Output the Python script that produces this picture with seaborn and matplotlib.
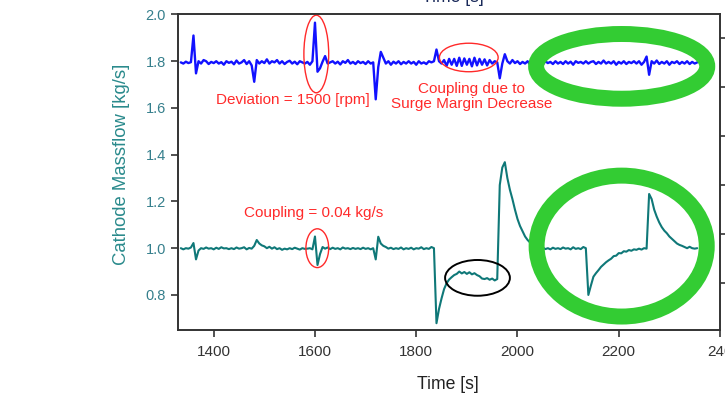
import numpy as np
import pandas as pd
import matplotlib
matplotlib.use("Agg")
import matplotlib.pyplot as plt
from matplotlib.patches import Ellipse
import seaborn as sns

# ---- data: sampled every 5 s from 1335 s to 2355 s ----
time_start, time_end, time_step = 1335, 2355, 5

speed_trace = [  # blue trace (compressor speed response, drawn on massflow scale)
    1.795, 1.790, 1.798, 1.792, 1.796, 1.910, 1.748, 1.800, 1.790, 1.805,
    1.800, 1.788, 1.797, 1.792, 1.800, 1.790, 1.796, 1.785, 1.800, 1.793,
    1.798, 1.787, 1.803, 1.790, 1.795, 1.805, 1.788, 1.800, 1.782, 1.712,
    1.805, 1.790, 1.800, 1.792, 1.808, 1.790, 1.800, 1.795, 1.805, 1.790,
    1.800, 1.788, 1.797, 1.802, 1.790, 1.798, 1.787, 1.800, 1.795, 1.790,
    1.797, 1.785, 1.800, 1.965, 1.755, 1.770, 1.798, 1.822, 1.790, 1.795,
    1.800, 1.790, 1.798, 1.786, 1.800, 1.793, 1.805, 1.790, 1.797, 1.788,
    1.800, 1.792, 1.797, 1.788, 1.800, 1.790, 1.795, 1.637, 1.775, 1.840,
    1.815, 1.790, 1.800, 1.785, 1.798, 1.790, 1.800, 1.787, 1.797, 1.790,
    1.800, 1.790, 1.797, 1.785, 1.800, 1.790, 1.795, 1.788, 1.800, 1.795,
    1.800, 1.850, 1.800, 1.790, 1.805, 1.780, 1.810, 1.785, 1.810, 1.780,
    1.815, 1.780, 1.812, 1.785, 1.810, 1.778, 1.815, 1.782, 1.810, 1.785,
    1.808, 1.782, 1.805, 1.790, 1.800, 1.795, 1.727, 1.790, 1.830, 1.800,
    1.790, 1.805, 1.792, 1.800, 1.788, 1.797, 1.790, 1.800, 1.785, 1.796,
    1.800, 1.790, 1.797, 1.785, 1.800, 1.792, 1.797, 1.788, 1.800, 1.790,
    1.797, 1.788, 1.800, 1.790, 1.798, 1.785, 1.800, 1.793, 1.797, 1.790,
    1.800, 1.790, 1.797, 1.800, 1.788, 1.797, 1.790, 1.803, 1.790, 1.797,
    1.790, 1.800, 1.785, 1.797, 1.790, 1.800, 1.788, 1.797, 1.792, 1.800,
    1.790, 1.800, 1.785, 1.797, 1.820, 1.742, 1.800, 1.790, 1.803, 1.788,
    1.797, 1.790, 1.800, 1.785, 1.797, 1.792, 1.800, 1.788, 1.797, 1.790,
    1.800, 1.788, 1.797, 1.790, 1.795,
]

cathode_massflow = [  # teal trace [kg/s]
    1.000, 0.995, 1.000, 0.998, 1.003, 1.022, 0.952, 0.990, 1.000, 0.997,
    1.003, 0.998, 1.000, 0.995, 1.002, 0.997, 1.004, 0.999, 1.000, 0.996,
    1.000, 0.996, 1.003, 0.998, 1.000, 1.004, 0.995, 1.001, 0.998, 1.010,
    1.035, 1.020, 1.012, 1.008, 1.000, 1.006, 0.998, 1.004, 0.996, 1.000,
    0.993, 0.998, 0.995, 1.000, 0.996, 1.002, 0.998, 0.994, 1.000, 0.997,
    0.998, 1.000, 0.995, 1.050, 0.928, 0.975, 1.005, 0.998, 1.003, 0.996,
    1.002, 0.997, 1.000, 0.995, 1.003, 0.998, 1.000, 0.996, 1.001, 0.997,
    1.000, 0.996, 1.002, 0.997, 1.000, 0.995, 1.000, 0.952, 1.049, 1.020,
    1.010, 1.005, 0.998, 1.002, 0.996, 1.000, 0.997, 1.003, 0.995, 1.000,
    0.997, 1.002, 0.995, 1.000, 0.998, 1.004, 0.996, 1.000, 0.997, 1.005,
    1.000, 0.679, 0.740, 0.785, 0.825, 0.850, 0.866, 0.876, 0.885, 0.890,
    0.900, 0.892, 0.898, 0.890, 0.897, 0.888, 0.893, 0.885, 0.880, 0.870,
    0.868, 0.872, 0.865, 0.870, 0.862, 0.868, 1.270, 1.345, 1.368, 1.300,
    1.250, 1.210, 1.165, 1.125, 1.095, 1.072, 1.050, 1.035, 1.024, 1.016,
    1.010, 1.004, 0.998, 1.003, 0.996, 1.000, 0.995, 1.002, 0.997, 1.000,
    0.996, 1.003, 0.998, 1.000, 0.995, 1.004, 0.997, 1.000, 0.996, 1.005,
    1.000, 0.800, 0.840, 0.878, 0.893, 0.906, 0.920, 0.930, 0.940, 0.948,
    0.955, 0.966, 0.968, 0.979, 0.978, 0.987, 0.985, 0.992, 0.989, 0.995,
    0.993, 0.998, 0.994, 1.000, 0.998, 1.232, 1.210, 1.165, 1.135, 1.110,
    1.090, 1.075, 1.064, 1.050, 1.040, 1.030, 1.020, 1.014, 1.010, 1.005,
    1.000, 1.006, 1.000, 0.998, 1.000,
]

x_ticks = [1400, 1600, 1800, 2000, 2200, 2400]
x_tick_labels = ["1400", "1600", "1800", "2000", "2200", "240"]
y_ticks = [0.8, 1.0, 1.2, 1.4, 1.6, 1.8, 2.0]

# annotation ellipses: (centre time, centre value, width s, height kg/s)
red_rings = [(1602.6, 1.831, 49, 0.332),
             (1903.8, 1.816, 116, 0.122),
             (1604.6, 1.000, 45, 0.166)]
black_ring = (1921.0, 0.873, 128, 0.153)
green_rings = [(2205.8, 1.778, 338, 0.277),
               (2205.8, 1.009, 336, 0.603)]

# ---- styling ----
sns.set_style("ticks")
plt.rcParams["font.family"] = ["Liberation Sans", "DejaVu Sans"]

BLUE = "#1212ff"
TEAL = "#0f7878"
RED = "#ff2a2a"
GREEN = "#33cc33"
LABEL_TEAL = "#2a8a8c"
TICK_TEAL = "#357f8c"
SPINE = "#333333"

time_s = np.arange(time_start, time_end + 1, time_step)
df = pd.DataFrame({"Time": time_s, "speed": speed_trace, "massflow": cathode_massflow})

fig = plt.figure(figsize=(7.25, 4.09), dpi=100)
ax = fig.add_axes([0.2459, 0.1932, 0.7472, 0.7714])

sns.lineplot(data=df, x="Time", y="speed", ax=ax, color=BLUE, lw=1.7, legend=False)
sns.lineplot(data=df, x="Time", y="massflow", ax=ax, color=TEAL, lw=1.5, legend=False)

ax.set_xlim(1330, 2400)
ax.set_ylim(0.65, 2.0)
ax.set_xticks(x_ticks)
ax.set_xticklabels(x_tick_labels)
ax.set_yticks(y_ticks)
ax.set_yticklabels([f"{v:.1f}" for v in y_ticks])

ax.tick_params(axis="x", direction="out", length=5, width=1.2, color=SPINE,
               labelsize=11, labelcolor="#333333", pad=6)
ax.tick_params(axis="y", direction="out", length=5, width=1.2, color=SPINE,
               labelsize=10.5, labelcolor=TICK_TEAL, pad=4)
for side in ["left", "bottom", "top", "right"]:
    ax.spines[side].set_visible(True)
    ax.spines[side].set_color(SPINE)
    ax.spines[side].set_linewidth(1.2)

ax.set_xlabel("Time [s]", fontsize=12.7, color="#222222")
ax.set_ylabel("Cathode Massflow [kg/s]", fontsize=13.3, color=LABEL_TEAL)
ax.xaxis.set_label_coords(0.498, -0.145)
ax.yaxis.set_label_coords(-0.089, 0.525)

# secondary axis on the right (its labels lie beyond the figure edge)
ax2 = ax.twinx()
ax2.set_ylim(-0.953, 5.486)
ax2.set_yticks(range(6))
ax2.tick_params(axis="y", direction="out", length=7, width=1.2, color=SPINE,
                labelright=False)
for side in ["left", "bottom", "top", "right"]:
    ax2.spines[side].set_color(SPINE)
    ax2.spines[side].set_linewidth(1.2)

# annotations
for (cx, cy, w, h) in red_rings:
    ax.add_patch(Ellipse((cx, cy), w, h, fill=False, ec=RED, lw=1.0, zorder=5))
cx, cy, w, h = black_ring
ax.add_patch(Ellipse((cx, cy), w, h, fill=False, ec="black", lw=1.4, zorder=5))
for (cx, cy, w, h) in green_rings:
    ax.add_patch(Ellipse((cx, cy), w, h, fill=False, ec=GREEN, lw=11.5,
                         zorder=6, clip_on=False))

ax.text(1556.6, 1.634, "Deviation = 1500 [rpm]", color=RED, fontsize=11,
        ha="center", va="center")
ax.text(1910, 1.649, "Coupling due to\nSurge Margin Decrease", color=RED,
        fontsize=11, ha="center", va="center", linespacing=1.05)
ax.text(1598, 1.151, "Coupling = 0.04 kg/s", color=RED, fontsize=11,
        ha="center", va="center")

# axis title of the panel above, mostly outside the frame
fig.text(0.625, 1 - 2.0 / 409, "Time [s]", fontsize=12.7, color="#1a2a5a",
         ha="center", va="baseline")

fig.savefig("out.png", dpi=100)
